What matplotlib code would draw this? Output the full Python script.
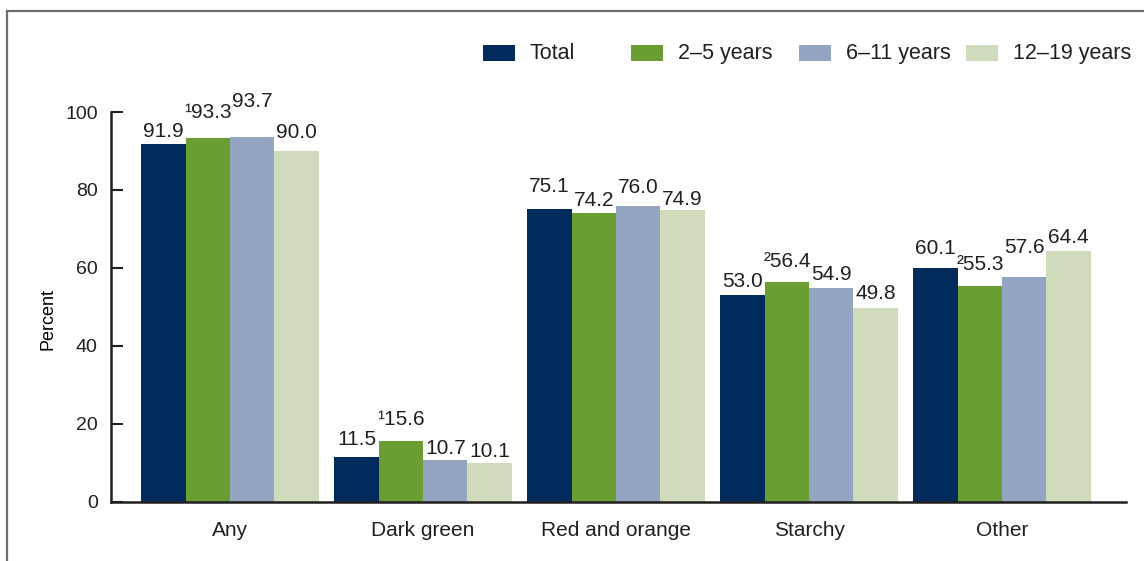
"""
Vegetable subgroup consumption among youth aged 2-19, by age group.
"""

import matplotlib

matplotlib.use("Agg")
import matplotlib.pyplot as plt
from matplotlib.lines import Line2D
from matplotlib.patches import Rectangle
import numpy as np

CATEGORIES = ["Any", "Dark green", "Red and orange", "Starchy", "Other"]
SERIES = ["Total", "2–5 years", "6–11 years", "12–19 years"]
TOTAL = [91.9, 11.5, 75.1, 53.0, 60.1]
AGE_2_5 = [93.3, 15.6, 74.2, 56.4, 55.3]
AGE_6_11 = [93.7, 10.7, 76.0, 54.9, 57.6]
AGE_12_19 = [90.0, 10.1, 74.9, 49.8, 64.4]
# footnote markers on the 2-5 years values
AGE_2_5_NOTE = ["¹", "¹", "", "²", "²"]
Y_TICKS = [0, 20, 40, 60, 80, 100]

COLORS = ["#002B5C", "#6B9E30", "#93A5C3", "#D0DBBC"]
# extra lift of each value label above its bar, in pixels (picture layout)
LABEL_LIFT = [
    [7, 20, 30, 13],
    [12, 16, 6, 6],
    [17, 7, 13, 5],
    [8, 15, 8, 9],
    [14, 16, 24, 8],
]

W, H = 1144, 561
TEXT = "#231F20"

plt.rcParams["font.family"] = ["Liberation Sans", "DejaVu Sans"]
plt.rcParams["text.color"] = TEXT


def fx(px: float) -> float:
    return px / W


def fy(py: float) -> float:
    return 1 - py / H


def main() -> None:
    fig = plt.figure(figsize=(W / 100, H / 100), dpi=100)
    ax = fig.add_axes([fx(111), fy(502), fx(1126) - fx(111), fy(112) - fy(502)])

    values = [TOTAL, AGE_2_5, AGE_6_11, AGE_12_19]
    x = np.arange(len(CATEGORIES))
    width = 0.23

    for i, (name, vals, color) in enumerate(zip(SERIES, values, COLORS)):
        pos = x + (i - 1.5) * width
        ax.bar(pos, vals, width=width, color=color, label=name, linewidth=0, zorder=2)
        for j, (p, v) in enumerate(zip(pos, vals)):
            note = AGE_2_5_NOTE[j] if i == 1 else ""
            ax.annotate(
                f"{note}{v:.1f}",
                (p, v),
                xytext=(0, LABEL_LIFT[j][i] * 0.72),
                textcoords="offset points",
                ha="center",
                va="baseline",
                fontsize=15,
                color=TEXT,
                annotation_clip=False,
            )

    ax.set_xlim(-0.617, 4.642)
    ax.set_ylim(0, 100)
    ax.set_yticks(Y_TICKS)
    ax.set_xticks(x)
    ax.set_xticklabels(CATEGORIES)
    ax.tick_params(axis="y", direction="in", length=8.6, width=1.5, pad=9.5,
                   labelsize=14, colors=TEXT)
    ax.tick_params(axis="x", length=0, pad=13.5, labelsize=15, colors=TEXT)
    for side in ("top", "right"):
        ax.spines[side].set_visible(False)
    for side in ("left", "bottom"):
        ax.spines[side].set_linewidth(1.8)
        ax.spines[side].set_color(TEXT)
    ax.set_ylabel("Percent", fontsize=13)
    ax.yaxis.set_label_coords(-0.054, 0.47)

    # legend drawn by hand to follow the uneven spacing of the original
    for name, color, left in zip(SERIES, COLORS, [483, 631, 799, 966]):
        fig.add_artist(Rectangle((fx(left), fy(61)), fx(32), fy(45) - fy(61),
                                 transform=fig.transFigure, color=color, linewidth=0))
        fig.text(fx(left + 47), fy(54), name, fontsize=15.5, va="center", ha="left")

    # outer frame: top and left rules
    fig.add_artist(Line2D([fx(7), 1], [fy(11), fy(11)], color="#6E6E6E", linewidth=1.6,
                          transform=fig.transFigure))
    fig.add_artist(Line2D([fx(7), fx(7)], [fy(11), 0], color="#6E6E6E", linewidth=1.6,
                          transform=fig.transFigure))

    fig.savefig("out.png", dpi=100)
    plt.close(fig)


if __name__ == "__main__":
    main()
